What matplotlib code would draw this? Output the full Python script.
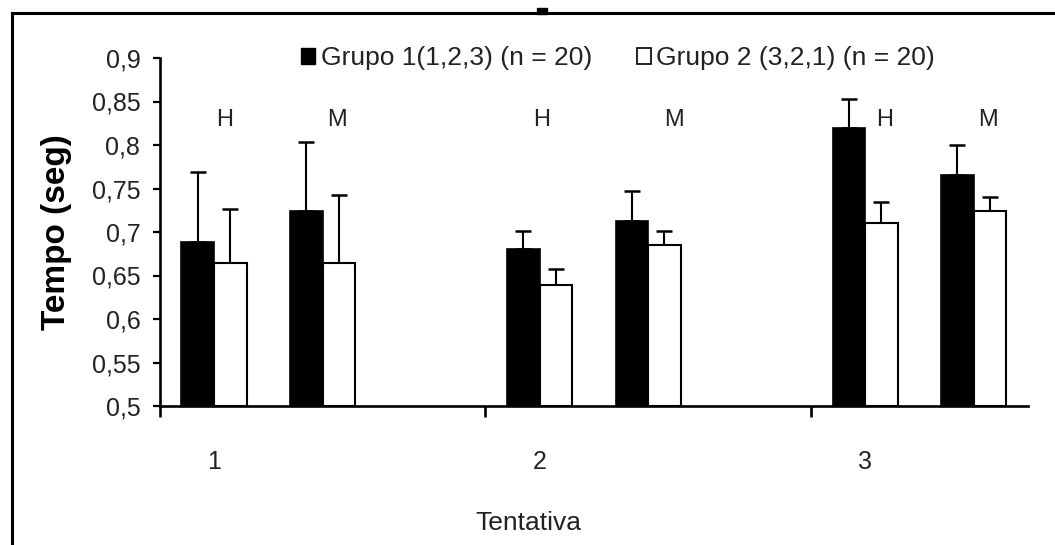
import numpy as np
import matplotlib
matplotlib.use("Agg")
from matplotlib import pyplot as plt
from matplotlib.patches import Patch, Rectangle
from matplotlib.lines import Line2D

plt.rcParams['font.family'] = ['Liberation Sans', 'DejaVu Sans']

# data
tentativas = ["1", "2", "3"]
sexos = ["H", "M"]
grupo1 = [0.688, 0.724, 0.681, 0.713, 0.819, 0.766]
grupo1_err = [0.081, 0.080, 0.020, 0.034, 0.034, 0.034]
grupo2 = [0.664, 0.664, 0.639, 0.685, 0.710, 0.724]
grupo2_err = [0.062, 0.078, 0.018, 0.016, 0.025, 0.016]
legenda = ["Grupo 1(1,2,3) (n = 20)", "Grupo 2 (3,2,1) (n = 20)"]

W, H = 1055, 545
fig = plt.figure(figsize=(W / 100, H / 100), dpi=100)
ax = fig.add_axes([159.7 / W, (H - 406) / H, 868.3 / W, 348 / H])

# each tentativa takes three slots: H, M, empty
slots = np.array([t * 3 + s + 0.5 for t in range(len(tentativas)) for s in range(len(sexos))])
bw = 0.3

ax.bar(slots - bw / 2, np.array(grupo1) - 0.5, bw, bottom=0.5, color="black",
       edgecolor="black", linewidth=1.2, zorder=3)
ax.bar(slots + bw / 2, np.array(grupo2) - 0.5, bw, bottom=0.5, color="white",
       edgecolor="black", linewidth=1.5, zorder=3)
ax.errorbar(slots - bw / 2, grupo1, yerr=[np.zeros(6), grupo1_err], fmt="none",
            ecolor="black", elinewidth=1.5, capsize=6, capthick=1.8, zorder=2)
ax.errorbar(slots + bw / 2, grupo2, yerr=[np.zeros(6), grupo2_err], fmt="none",
            ecolor="black", elinewidth=1.5, capsize=6, capthick=1.8, zorder=2)

# H / M labels (hand placed in the original)
label_shift = [0.10, 0.13, 0.02, 0.24, 0.18, 0.13]
for i, x in enumerate(slots):
    ax.text(x + label_shift[i], 0.829, sexos[i % 2], ha="center", va="center",
            fontsize=17, color="#222222")

ax.set_xlim(0, 8)
ax.set_ylim(0.5, 0.9)
ax.set_yticks(np.arange(0.5, 0.901, 0.05))
ax.set_yticklabels([f"{v:g}".replace(".", ",") for v in np.arange(0.5, 0.901, 0.05).round(2)])
ax.set_xticks([0, 3, 6])
ax.set_xticklabels([])
ax.set_xticks(slots[::2], minor=True)
ax.set_xticklabels(tentativas, minor=True)

for s in ["top", "right"]:
    ax.spines[s].set_visible(False)
for s in ["left", "bottom"]:
    ax.spines[s].set_linewidth(1.9)
ax.tick_params(axis="y", direction="out", length=5, width=1.6, labelsize=18, pad=9,
               labelcolor="#222222")
ax.tick_params(axis="x", which="major", direction="out", length=8, width=1.9)
ax.tick_params(axis="x", which="minor", length=0, labelsize=18, pad=32, labelcolor="#222222")

fig.text(57 / W, 1 - 232 / H, "Tempo (seg)", rotation=90, ha="center", va="center",
         fontsize=24, fontweight="bold")
fig.text(528 / W, 1 - 523 / H, "Tentativa", ha="center", va="center", fontsize=19,
         color="#222222")

handles = [Patch(facecolor="black", edgecolor="black"),
           Patch(facecolor="white", edgecolor="black", linewidth=1.2)]
fig.legend(handles, legenda, ncol=2, frameon=False, loc="center",
           bbox_to_anchor=(618 / W, 1 - 58 / H), fontsize=19, handlelength=0.55,
           handleheight=0.55, handletextpad=0.2, columnspacing=1.7, labelcolor="#222222")

# frame of the original picture
fig.add_artist(Line2D([12 / W, 1], [1 - 13 / H, 1 - 13 / H], color="black", linewidth=2.2))
fig.add_artist(Line2D([12 / W, 12 / W], [0, 1 - 13 / H], color="black", linewidth=2.2))
fig.add_artist(Rectangle((537 / W, 1 - 14 / H), 10 / W, 6 / H, color="black",
                         transform=fig.transFigure))

fig.savefig("out.png", dpi=100)
